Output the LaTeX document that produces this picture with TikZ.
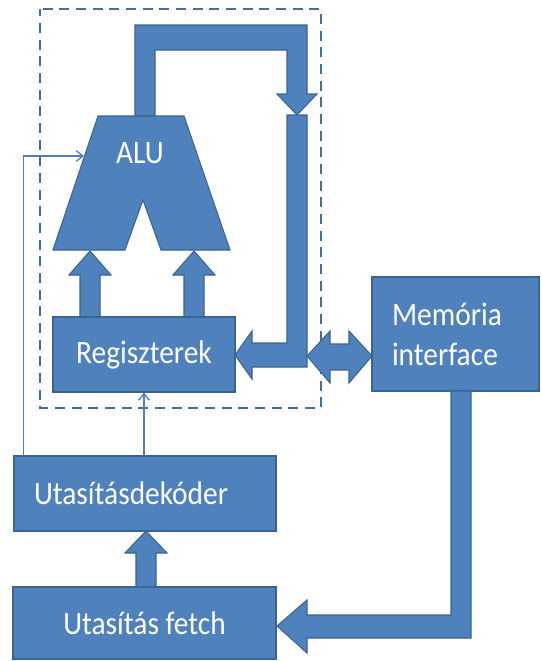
\documentclass[tikz,border=0pt]{standalone}
\usepackage{fontspec}
\setmainfont[FakeStretch=0.9]{Carlito}
\usetikzlibrary{arrows.meta}
\definecolor{fillc}{HTML}{4F81BD}
\definecolor{edgec}{HTML}{3A6492}
\definecolor{dashc}{HTML}{41709C}
\begin{document}
\begin{tikzpicture}[x=0.75pt,y=-0.75pt,
  blk/.style={draw=edgec,fill=fillc,line width=0.8pt,line join=miter},
  lbl/.style={text=white,font=\fontsize{24.5}{30}\selectfont},
  box/.style={blk,lbl,rectangle,inner sep=0pt},
  thinarrow/.style={draw=fillc,line width=1pt,-{Straight Barb[length=5pt,width=8pt]}},
]
\useasboundingbox (0,0) rectangle (542,661);
% dashed CPU frame
\draw[dashc,line width=2pt,dash pattern=on 7.5pt off 5pt,dash phase=2pt] (40,9) rectangle (321,408);

% top loop bus (ALU output)
\path[blk] (135,117) -- (135,25) -- (307,25) -- (307,94) -- (317,94) -- (297,115) -- (277,94) -- (287,94) -- (287,50) -- (155,50) -- (155,117) -- cycle;
% right L bus into registers
\path[blk] (287,115) -- (307,115) -- (307,367) -- (252,367) -- (252,379) -- (235,355) -- (252,331) -- (252,343) -- (287,343) -- cycle;

% ALU shape
\path[blk] (98,116) -- (184,116) -- (230,250) -- (161,250) -- (143,200) -- (125,250) -- (53,250) -- cycle;
\node[lbl] (alu) at (140,153) {ALU};

% arrows registers -> ALU
\path[blk] (80,317) -- (80,275) -- (69,275) -- (90,251) -- (111,275) -- (100,275) -- (100,317) -- cycle;
\path[blk] (184,317) -- (184,275) -- (173,275) -- (194,251) -- (215,275) -- (204,275) -- (204,317) -- cycle;

% registers
\node[box,minimum width=136.5pt,minimum height=56.25pt] (reg) at (144,354.5) {Regiszterek};

% double arrow
\path[blk] (307,356) -- (330,331) -- (330,344) -- (349,344) -- (349,331) -- (372,356) -- (349,383) -- (349,370) -- (330,370) -- (330,383) -- cycle;

% memory interface
\node[box,minimum width=125.25pt,minimum height=85.5pt,text width=95.25pt,inner xsep=15pt,align=left] (mem) at (455.5,334) {Memória\\interface};

% memory bus to fetch
\path[blk] (451,391) -- (471,391) -- (471,638) -- (307,638) -- (307,653) -- (277,626) -- (307,600) -- (307,615) -- (451,615) -- cycle;

% decoder
\node[box,minimum width=196.5pt,minimum height=56.25pt,text width=166.5pt,inner xsep=15pt,align=left] (dec) at (145,493.5) {Utasításdekóder};

% fetch -> decoder arrow
\path[blk] (136,587) -- (136,553) -- (125,553) -- (146,531) -- (167,553) -- (156,553) -- (156,587) -- cycle;

% fetch
\node[box,minimum width=197.25pt,minimum height=54pt] (fetch) at (144.5,623) {Utasítás fetch};

% control lines
\coordinate (aluin) at (84,156);
\draw[thinarrow] ([xshift=7.5pt]dec.north west) |- (aluin);
\draw[thinarrow] (dec.north -| reg.south) -- (reg.south);
\end{tikzpicture}
\end{document}
